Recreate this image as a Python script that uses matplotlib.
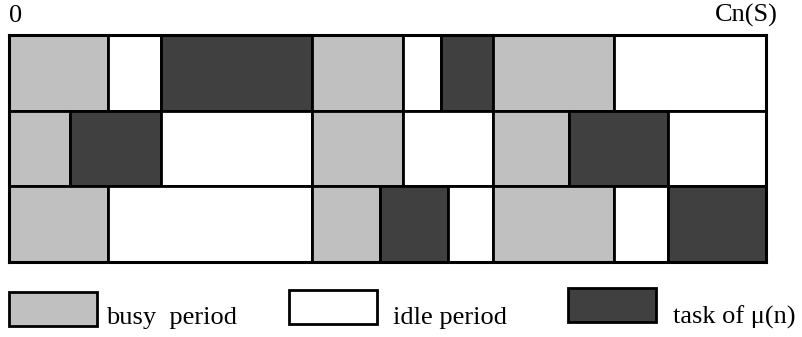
import matplotlib
matplotlib.use("Agg")
import matplotlib.pyplot as plt
from matplotlib.patches import Rectangle
import numpy as np

plt.rcParams["font.family"] = ["Liberation Serif", "DejaVu Serif"]

# 各列的時段長度與狀態 (B = busy, I = idle, T = task of mu(n))
row1_states = ["B", "I", "T", "B", "I", "T", "B", "I"]
row1_lengths = [99, 53, 151, 91, 38, 52, 121, 152]

row2_states = ["B", "T", "I", "B", "I", "B", "T", "I"]
row2_lengths = [61, 91, 151, 91, 90, 76, 99, 98]

row3_states = ["B", "I", "B", "T", "I", "B", "I", "T"]
row3_lengths = [99, 204, 68, 68, 45, 121, 54, 98]

state_colors = {"B": "#c0c0c0", "I": "#ffffff", "T": "#404040"}
legend_labels = ["busy  period", "idle period", "task of μ(n)"]
legend_states = ["B", "I", "T"]

W, H = 802, 337
fig = plt.figure(figsize=(W / 100, H / 100), dpi=100)

# 主圖：三列時間軸
ax = fig.add_axes([9 / W, (H - 262) / H, 757 / W, 227 / H])
rows = [(row1_states, row1_lengths),
        (row2_states, row2_lengths),
        (row3_states, row3_lengths)]
for i, (states, lengths) in enumerate(rows):
    starts = np.concatenate([[0], np.cumsum(lengths)[:-1]])
    ax.barh(
        [i + 0.5] * len(lengths),
        lengths,
        left=starts,
        height=1.0,
        color=[state_colors[s] for s in states],
        edgecolor="black",
        linewidth=2.0,
    )

total = sum(row1_lengths)
ax.set_xlim(0, total)
ax.set_ylim(3, 0)
ax.set_xticks([])
ax.set_yticks([])
for sp in ax.spines.values():
    sp.set_linewidth(2.2)

fig.text(9 / W, 1 - 22 / H, "0", fontsize=19, ha="left", va="baseline")
fig.text(778 / W, 1 - 22 / H, "Cn(S)", fontsize=19, ha="right", va="baseline")

# 圖例
box_x = [9, 289, 568]
box_y = [292, 290, 288]
text_x = [106, 393, 673]
for bx, by, tx, st, lab in zip(box_x, box_y, text_x, legend_states, legend_labels):
    fig.patches.append(Rectangle(
        (bx / W, 1 - (by + 34) / H), 88 / W, 34 / H,
        transform=fig.transFigure, facecolor=state_colors[st],
        edgecolor="black", linewidth=2.0))
    fig.text(tx / W, 1 - 324 / H, lab, fontsize=19, ha="left", va="baseline")

plt.savefig("out.png", dpi=100)
plt.close()
